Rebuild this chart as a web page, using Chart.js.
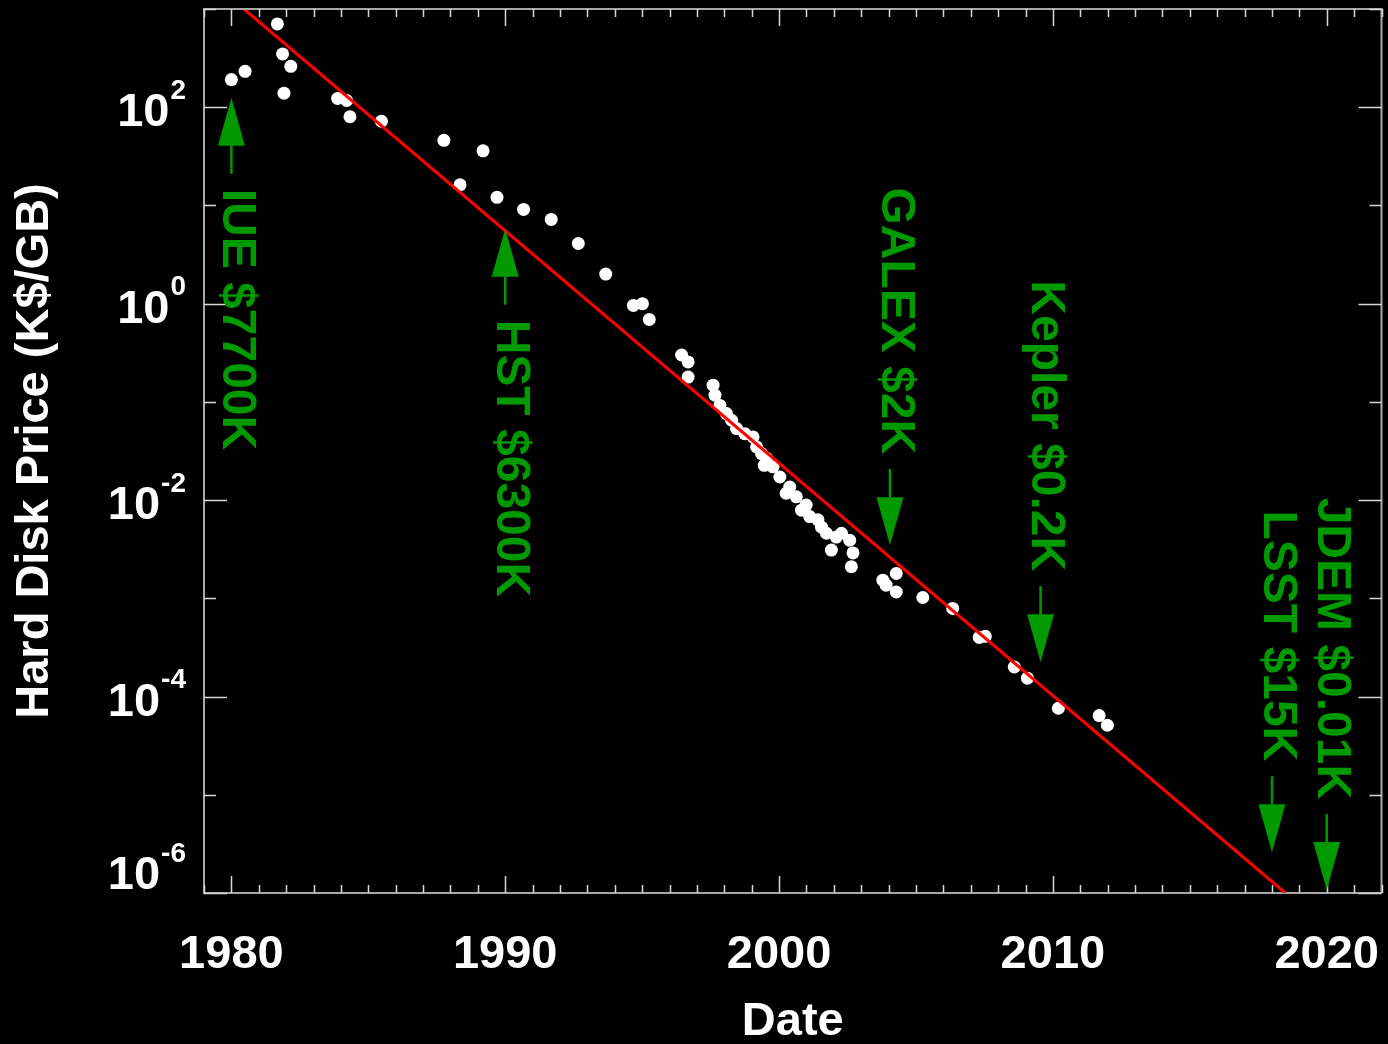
<!DOCTYPE html>
<html>
<head>
<meta charset="utf-8">
<title>Hard Disk Price</title>
<script src="https://cdn.jsdelivr.net/npm/chart.js@4.4.1/dist/chart.umd.min.js"></script>
<style>
  html, body { margin: 0; padding: 0; background: #000; }
  #wrap { width: 1388px; height: 1044px; position: relative; }
</style>
</head>
<body>
<div id="wrap"><canvas id="chart"></canvas></div>
<script>
// Hard disk price history, K$ per GB
const diskYears = [
  1980.0, 1980.5, 1981.68, 1981.87, 1982.17, 1981.92, 1983.88, 1984.21, 1984.33, 1985.48,
  1987.76, 1988.35, 1989.19, 1989.70, 1990.67, 1991.68, 1992.67, 1993.67, 1994.68, 1995.01,
  1995.26, 1996.44, 1996.68, 1996.68, 1997.59, 1997.66, 1997.84, 1998.08, 1998.27, 1998.45,
  1998.75, 1999.05, 1999.18, 1999.36, 1999.46, 1999.54, 1999.78, 2000.03, 2000.26, 2000.39,
  2000.63, 2000.82, 2000.99, 2001.12, 2001.42, 2001.55, 2001.73, 2001.91, 2002.09, 2002.28,
  2002.58, 2002.64, 2002.70, 2003.79, 2003.91, 2004.28, 2004.28, 2005.25, 2006.34, 2007.31,
  2007.53, 2008.59, 2009.07, 2010.20, 2011.69, 2011.99
];
const diskPrices = [
  191, 232, 705, 349, 261, 139, 123, 117, 80, 72,
  46, 16.2, 36, 12.1, 9.1, 7.2, 4.1, 2.0, 0.96, 1.0,
  0.69, 0.30, 0.255, 0.179, 0.148, 0.117, 0.092, 0.076, 0.065, 0.0535,
  0.0475, 0.044, 0.0348, 0.0298, 0.0226, 0.0267, 0.0218, 0.0172, 0.01175, 0.0136,
  0.0108, 0.0079, 0.0089, 0.0068, 0.0063, 0.0053, 0.0046, 0.0031, 0.0042, 0.0046,
  0.0039, 0.0021, 0.0029, 0.00153, 0.00136, 0.00179, 0.00116, 0.00102, 0.00079, 0.00040,
  0.00041, 0.00020, 0.000154, 0.000076, 0.000064, 0.000051
];

// Exponential trend line end points
const fitYears = [1980.46, 2018.49];
const fitPrices = [1000, 0.000001];

// Axis ticks
const xTickYears = [1980, 1990, 2000, 2010, 2020];
const yLabelExponents = [2, 0, -2, -4, -6];

// Missions: data volume cost at launch
const missionLabels = ['IUE $7700K', 'HST $6300K', 'GALEX $2K', 'Kepler $0.2K', 'LSST $15K', 'JDEM $0.01K'];
const missionYears = [1980.0, 1990.0, 2004.05, 2009.55, 2018.0, 2020.0];
const missionArrowTips = [125, 5.8, 0.00348, 0.000224, 0.0000026, 0.00000107];
const missionArrowUp = [true, true, false, false, false, false];

const FONT = "'Liberation Sans', Arial, Helvetica, sans-serif";
const AXIS_COLOR = '#a8a8a8';
const TICK_COLOR = '#d8d8d8';
const GREEN = '#009a00';

const bg = {
  id: 'bg',
  beforeDraw(chart) {
    const { ctx, width, height } = chart;
    ctx.save();
    ctx.fillStyle = '#000';
    ctx.fillRect(0, 0, width, height);
    ctx.restore();
  }
};

// Top/right frame plus inward tick marks on all four sides
const frameTicks = {
  id: 'frameTicks',
  afterDatasetsDraw(chart) {
    const { ctx, chartArea: a, scales: { x, y } } = chart;
    ctx.save();
    ctx.strokeStyle = AXIS_COLOR;
    ctx.lineWidth = 2;
    ctx.beginPath();
    ctx.moveTo(a.left, a.top);
    ctx.lineTo(a.right, a.top);
    ctx.lineTo(a.right, a.bottom);
    ctx.stroke();

    ctx.strokeStyle = TICK_COLOR;
    ctx.lineWidth = 1.5;
    ctx.beginPath();
    for (let yr = Math.ceil(x.min); yr <= x.max; yr++) {
      const px = Math.round(x.getPixelForValue(yr)) + 0.5;
      const len = yr % 10 === 0 ? 17 : 8;
      ctx.moveTo(px, a.bottom); ctx.lineTo(px, a.bottom - len);
      ctx.moveTo(px, a.top); ctx.lineTo(px, a.top + len);
    }
    const eMin = Math.round(Math.log10(y.min)), eMax = Math.round(Math.log10(y.max));
    for (let e = eMin; e <= eMax; e++) {
      const py = Math.round(y.getPixelForValue(Math.pow(10, e))) + 0.5;
      const len = e % 2 === 0 ? 23 : 12;
      ctx.moveTo(a.left, py); ctx.lineTo(a.left + len, py);
      ctx.moveTo(a.right, py); ctx.lineTo(a.right - len, py);
    }
    ctx.stroke();
    ctx.restore();
  }
};

// Power-of-ten labels with raised exponents
const decadeLabels = {
  id: 'decadeLabels',
  afterDraw(chart) {
    const { ctx, chartArea: a, scales: { y } } = chart;
    ctx.save();
    ctx.fillStyle = '#fff';
    ctx.textAlign = 'right';
    ctx.textBaseline = 'middle';
    const right = a.left - 18;
    yLabelExponents.forEach(e => {
      const t = y.getPixelForValue(Math.pow(10, e));
      const cy = Math.min(t + 6, a.bottom - 16.5);
      const sup = String(e);
      ctx.font = 'bold 28px ' + FONT;
      ctx.fillText(sup, right, cy - 22);
      const w = ctx.measureText(sup).width;
      ctx.font = 'bold 47px ' + FONT;
      ctx.fillText('10', right - w - 1, cy);
    });
    ctx.restore();
  }
};

// Mission arrows and rotated captions
const missions = {
  id: 'missions',
  afterDraw(chart) {
    const { ctx, scales: { x, y } } = chart;
    ctx.save();
    ctx.fillStyle = GREEN;
    ctx.strokeStyle = GREEN;
    ctx.lineWidth = 2.5;
    const arrowLen = 76, headLen = 48, headHalf = 13.5, gap = 15;
    missionLabels.forEach((label, i) => {
      const px = x.getPixelForValue(missionYears[i]);
      const tip = y.getPixelForValue(missionArrowTips[i]);
      const dir = missionArrowUp[i] ? 1 : -1; // +1: tail lies below the tip
      const tail = tip + dir * arrowLen;
      const base = tip + dir * headLen;
      ctx.beginPath();
      ctx.moveTo(px, tail); ctx.lineTo(px, base);
      ctx.stroke();
      ctx.beginPath();
      ctx.moveTo(px, tip);
      ctx.lineTo(px - headHalf, base);
      ctx.lineTo(px + headHalf, base);
      ctx.closePath();
      ctx.fill();

      ctx.save();
      ctx.font = 'bold 48px ' + FONT;
      ctx.textBaseline = 'middle';
      ctx.translate(px + 5, tail + dir * gap);
      ctx.rotate(Math.PI / 2);
      ctx.textAlign = missionArrowUp[i] ? 'left' : 'right';
      ctx.fillText(label, 0, 0);
      ctx.restore();
    });
    ctx.restore();
  }
};

new Chart(document.getElementById('chart'), {
  type: 'scatter',
  data: {
    datasets: [
      {
        label: 'Trend',
        data: fitYears.map((v, i) => ({ x: v, y: fitPrices[i] })),
        showLine: true,
        borderColor: '#ff0000',
        borderWidth: 3,
        pointRadius: 0,
        order: 0
      },
      {
        label: 'Hard disk price',
        data: diskYears.map((v, i) => ({ x: v, y: diskPrices[i] })),
        backgroundColor: '#ffffff',
        borderWidth: 0,
        pointRadius: 6.5,
        pointHoverRadius: 6.5,
        order: 1
      }
    ]
  },
  options: {
    responsive: true,
    maintainAspectRatio: false,
    animation: false,
    devicePixelRatio: 1,
    layout: { padding: { top: 9, right: 4, left: 0, bottom: 0 } },
    plugins: { legend: { display: false }, tooltip: { enabled: false } },
    events: [],
    scales: {
      x: {
        type: 'linear',
        min: 1979,
        max: 2022,
        afterBuildTicks: s => { s.ticks = xTickYears.map(v => ({ value: v })); },
        afterFit: s => { s.height = 151; s.paddingLeft = 0; s.paddingRight = 0; },
        grid: { display: false, drawTicks: false },
        border: { display: true, color: AXIS_COLOR, width: 2 },
        ticks: {
          color: '#fff',
          font: { family: FONT, size: 47, weight: 'bold', lineHeight: 1 },
          padding: 39,
          maxRotation: 0,
          autoSkip: false,
          callback: v => String(v)
        },
        title: {
          display: true,
          text: 'Date',
          color: '#fff',
          font: { family: FONT, size: 47, weight: 'bold', lineHeight: 1 },
          padding: { top: 0, bottom: -2 }
        }
      },
      y: {
        type: 'logarithmic',
        min: 0.000001,
        max: 1000,
        afterBuildTicks: s => { s.ticks = yLabelExponents.map(e => ({ value: Math.pow(10, e) })); },
        afterFit: s => { s.width = 204; s.paddingTop = 0; s.paddingBottom = 0; },
        grid: { display: false, drawTicks: false },
        border: { display: true, color: AXIS_COLOR, width: 2 },
        ticks: { display: false },
        title: {
          display: true,
          text: 'Hard Disk Price (K$/GB)',
          color: '#fff',
          font: { family: FONT, size: 47, weight: 'bold', lineHeight: 1 },
          padding: { top: 12, bottom: 0 }
        }
      }
    }
  },
  plugins: [bg, frameTicks, decadeLabels, missions]
});
</script>
</body>
</html>
